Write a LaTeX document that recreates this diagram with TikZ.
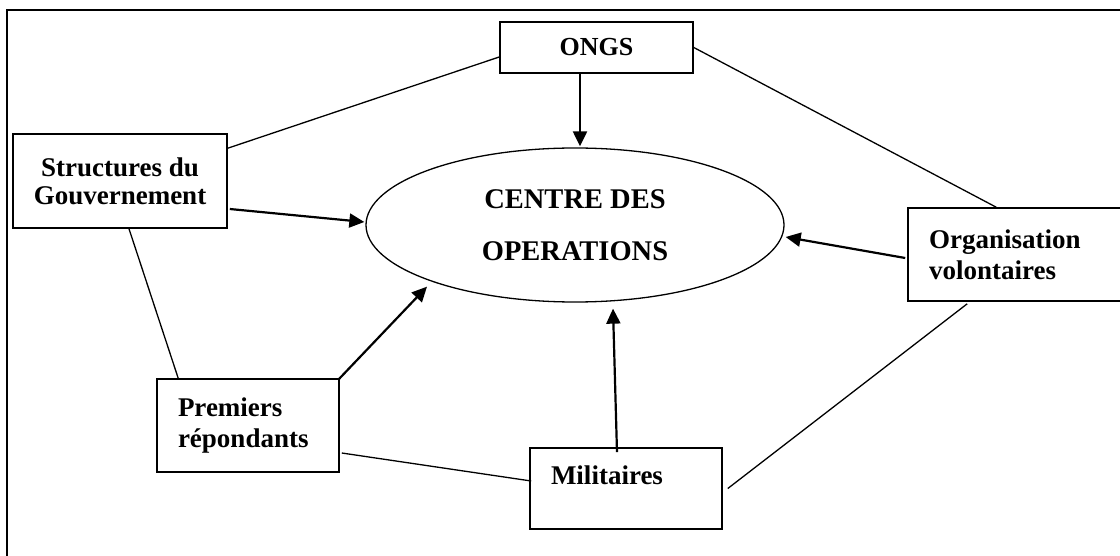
\documentclass[tikz,border=0pt]{standalone}
\usepackage{fontspec}
\setmainfont{Liberation Serif}
\usetikzlibrary{shapes.geometric,arrows.meta,calc}
\begin{document}
\begin{tikzpicture}[x=1pt,y=-1pt,
  lbl/.style={font=\bfseries\fontsize{27}{31}\selectfont},
  boxnode/.style={draw,line width=1.6pt,inner sep=0pt,lbl},
  leftbox/.style={boxnode,align=left,inner xsep=21pt},
  link/.style={line width=1.3pt},
  arr/.style={line width=2.2pt,-{Triangle[length=15pt,width=14pt]}}]
\useasboundingbox (0,0) rectangle (1120,556);
\clip (0,0) rectangle (1120,556);
% outer frame (only left and top edges visible)
\draw[line width=2.2pt] (7,10) rectangle (1140,580);
% nodes
\node[boxnode,minimum width=193pt,minimum height=51pt,font=\bfseries\fontsize{26}{31}\selectfont] (ongs) at (596.5,47.5) {ONGS};
\node[boxnode,align=center,minimum width=214pt,minimum height=94pt,font=\bfseries\fontsize{27}{28}\selectfont] (gov) at (120,181) {Structures du\\Gouvernement};
\node[draw,ellipse,line width=1.3pt,inner sep=0pt,minimum width=418pt,minimum height=154pt,align=center,font=\bfseries\fontsize{28.5}{52}\selectfont] (cdo) at (575,225) {CENTRE DES\\OPERATIONS};
\node[leftbox,text width=175pt,minimum width=217pt,minimum height=93pt] (org) at (1016.5,254.5) {Organisation\\volontaires};
\node[leftbox,text width=140pt,minimum width=182pt,minimum height=93pt] (prem) at (248,425.5) {Premiers\\répondants};
\node[leftbox,text width=150pt,minimum width=192pt,minimum height=81pt,text height=18pt,text depth=27pt] (mil) at (626,488.5) {Militaires};
% connectors
\draw[link] ($(gov.north east)+(0,15)$) -- ($(ongs.west)+(0,9.5)$);
\draw[link] (ongs.east) -- ($(org.north west)+(89,0)$);
\draw[arr] ($(ongs.south)+(-16.5,0)$) -- ($(cdo.north)+(5,-1)$);
\draw[arr] ($(gov.east)+(2,28)$) -- ($(cdo.west)+(-1,-3)$);
\draw[link] ($(gov.south)+(9,0)$) -- ($(prem.north west)+(22,0)$);
\draw[arr] ($(prem.north east)+(-1,1)$) -- ($(cdo.south)+(-148,-16)$);
\draw[link] ($(prem.east)+(2,27.5)$) -- ($(mil.west)+(2,-7.5)$);
\draw[arr] ($(mil.north)+(-9,5)$) -- ($(cdo.south)+(38,6)$);
\draw[link] ($(mil.east)+(5,0)$) -- ($(org.south west)+(60,2)$);
\draw[arr] ($(org.west)+(-2,3.5)$) -- ($(cdo.east)+(1,12)$);
\end{tikzpicture}
\end{document}
